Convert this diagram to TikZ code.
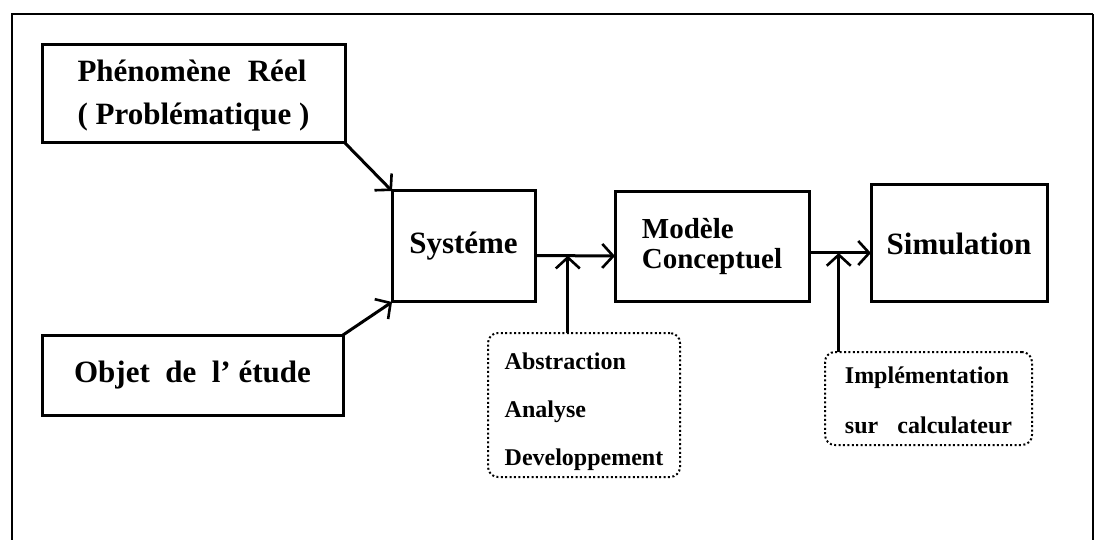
\documentclass[tikz,border=0pt]{standalone}
\usepackage{fontspec}
\setmainfont{Liberation Serif}
\usetikzlibrary{arrows.meta,calc}
\begin{document}
\begin{tikzpicture}[x=0.5pt,y=-0.5pt,
  box/.style={draw, line width=1.5pt, anchor=north west, inner sep=0pt, outer sep=0pt,
    font=\fontsize{15.5}{21.5}\selectfont\bfseries},
  note/.style={draw, line width=1pt, dash pattern=on 1pt off 1.2pt, rounded corners=5pt,
    anchor=north west, inner sep=0pt, outer sep=0pt, align=left},
  arr/.style={line width=1.5pt, -{Straight Barb[length=5.5pt,width=12pt,line width=1.3pt]}},
  frameline/.style={line width=1.3pt}]
\useasboundingbox (0,0) rectangle (1094,540);
% outer frame
\draw[frameline] (12,540) -- (12,14) -- (1093,14);
\draw[line width=0.6pt] (1093,14) -- (1093,540);
% boxes
\node[box, minimum width=151.5pt, minimum height=49pt, align=left] (phen) at (42,45)
  {\rule{0pt}{12.5pt}Phénomène\hspace{0.3em} Réel\\( Problématique )};
\node[box, minimum width=150.5pt, minimum height=40pt] (obj) at (42,335)
  {Objet~ de~ l' étude};
\node[box, minimum width=71.5pt, minimum height=55.5pt] (sys) at (392,191) {Systéme};
\node[box, minimum width=97pt, minimum height=55pt, align=left,
  font=\fontsize{14.5}{15}\selectfont\bfseries] (mod) at (615,192) {Modèle\\Conceptuel};
\node[box, minimum width=88pt, minimum height=58.5pt] (sim) at (871,185) {Simulation};
% notes
\node[note, minimum width=96pt, minimum height=72pt,
  font=\fontsize{12}{24}\selectfont\bfseries] (abs) at (488,333)
  {\rule{0pt}{15.5pt}Abstraction\\Analyse\\Developpement};
\node[note, minimum width=103.5pt, minimum height=46.5pt,
  font=\fontsize{12}{25}\selectfont\bfseries] (imp) at (825,352)
  {\rule{0pt}{10pt}Implémentation\\sur\hspace{0.8em}calculateur};
% connectors
\draw[arr] (phen.south east) -- (sys.north west);
\draw[arr] (obj.north east) -- (sys.south west);
\coordinate (s1) at ([yshift=-4.5pt]sys.east);
\coordinate (m1) at ([yshift=-4.5pt]mod.west);
\draw[arr] (s1) -- (m1);
\coordinate (j1) at ($(s1)!0.41!(m1)$);
\draw[arr] (abs.north -| j1) -- (j1);
\coordinate (m2) at ([yshift=-3pt]mod.east);
\coordinate (t2) at (m2 -| sim.west);
\draw[arr] (m2) -- (t2);
\coordinate (j2) at ($(m2)!0.48!(t2)$);
\draw[arr] (imp.north -| j2) -- (j2);
\end{tikzpicture}
\end{document}
